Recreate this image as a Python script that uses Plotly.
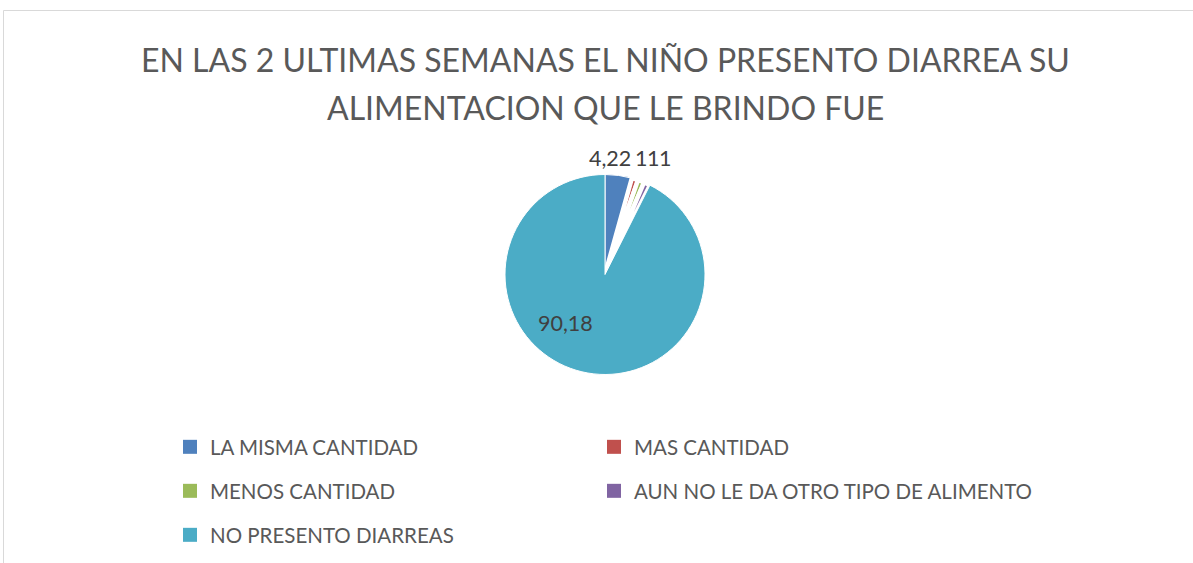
import plotly.graph_objects as go

categories = ["LA MISMA CANTIDAD", "MAS CANTIDAD", "MENOS CANTIDAD",
              "AUN NO LE DA OTRO TIPO DE ALIMENTO", "NO PRESENTO DIARREAS"]
values = [4.22, 1, 1, 1, 90.18]
colors = ["#4F81BD", "#C0504D", "#9BBB59", "#8064A2", "#4BACC6"]
title_lines = ["EN LAS 2 ULTIMAS SEMANAS EL NIÑO PRESENTO DIARREA SU",
               "ALIMENTACION QUE LE BRINDO FUE"]

W, H = 1193, 563
labels_txt = [("%g" % v).replace(".", ",") for v in values]

# label placement (pixels) for data labels
label_pos = [(610, 158), (641, 158), (653, 158), (665, 158), (565, 323)]
# legend grid: (column x, row y) in pixels for each category
legend_cols_x = [170, 594]
legend_rows_y = [447, 491, 535]

fig = go.Figure()
fig.add_trace(go.Pie(
    labels=categories, values=values, textinfo="none",
    sort=False, direction="clockwise", rotation=0,
    marker=dict(colors=colors, line=dict(color="white", width=[1, 4.5, 4.5, 4.5, 1])),
    domain=dict(x=[505 / W, 705 / W], y=[1 - 375 / H, 1 - 174 / H]),
    hoverinfo="label+value", showlegend=False,
))

leg_common = dict(orientation="h", xanchor="left", yanchor="middle",
                  font=dict(size=20.5, color="#595959"), bgcolor="rgba(0,0,0,0)")
legend_layout = {}
for i, cat in enumerate(categories):
    name = "legend" if i == 0 else "legend%d" % (i + 1)
    col, row = i % 2, i // 2
    legend_layout[name] = dict(x=legend_cols_x[col] / W, y=1 - legend_rows_y[row] / H, **leg_common)
    fig.add_trace(go.Scatter(
        x=[None], y=[None], mode="markers", name=cat,
        marker=dict(symbol="square", size=14, color=colors[i]),
        legend=name, showlegend=True, hoverinfo="skip"))

annotations = []
for t, (px, py) in zip(labels_txt, label_pos):
    annotations.append(dict(text=t, x=px / W, y=1 - py / H, xref="paper", yref="paper",
                            xanchor="center", yanchor="middle", showarrow=False,
                            font=dict(size=21.5, color="#404040")))
for line, py in zip(title_lines, [60, 108]):
    annotations.append(dict(text=line, x=605 / W, y=1 - py / H, xref="paper", yref="paper",
                            xanchor="center", yanchor="middle", showarrow=False,
                            font=dict(size=32, color="#595959")))

fig.update_layout(
    width=W, height=H,
    margin=dict(l=0, r=0, t=0, b=0),
    paper_bgcolor="white", plot_bgcolor="white",
    font=dict(family="Lato, Open Sans, sans-serif", color="#595959"),
    xaxis=dict(visible=False), yaxis=dict(visible=False),
    annotations=annotations,
    shapes=[dict(type="rect", xref="paper", yref="paper",
                 x0=3.5 / W, x1=1.02, y0=-0.02, y1=1 - 10.5 / H,
                 line=dict(color="#D9D9D9", width=1))],
    **legend_layout,
)

fig.write_html("out.html", config={"displayModeBar": False},
               post_script="document.body.style.margin='0px';")
